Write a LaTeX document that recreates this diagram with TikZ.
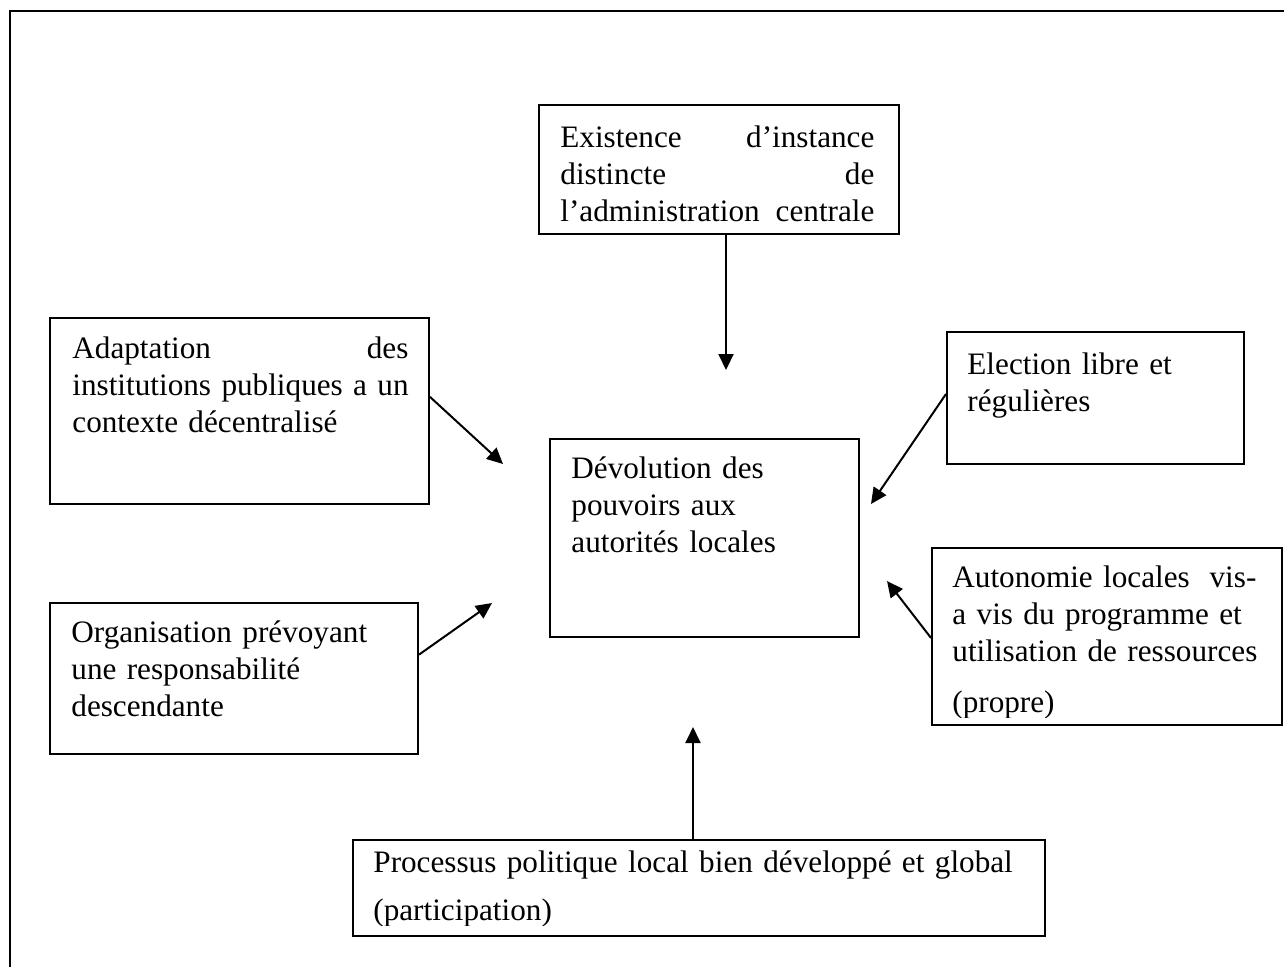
\documentclass[tikz,border=0pt]{standalone}
\usepackage{fontspec}
\setmainfont{Liberation Serif}
\usetikzlibrary{arrows.meta,fit,calc}
\begin{document}
\begin{tikzpicture}[x=0.5pt,y=-0.5pt,
  box/.style={draw, line width=1pt, inner sep=0pt},
  txt/.style={inner sep=0pt, anchor=base west, align=left, font=\fontsize{15.6}{18.5}\selectfont},
  arr/.style={line width=1pt, -{Triangle[length=8pt,width=7.5pt]}}]
\useasboundingbox (0,0) rectangle (1284,966);
% outer frame (top and left sides visible)
\draw[line width=1.4pt] (10,970) -- (10,11) -- (1290,11);

% boxes
\node[box, fit={(539,105) (899,234)}] (ex) {};
\node[box, fit={(50,318) (429,504)}] (ad) {};
\node[box, fit={(550,439) (859,637)}] (dv) {};
\node[box, fit={(947,332) (1244,464)}] (el) {};
\node[box, fit={(932,548) (1282,725)}] (au) {};
\node[box, fit={(50,603) (418,754)}] (or) {};
\node[box, fit={(353,840) (1045,936)}] (pr) {};

% texts
\node[txt, text width=157pt] (ext) at (560,147) {Existence\hfill d’instance\\ distincte\hfill de\\ l’administration\hfill centrale};
\node[txt, text width=168pt] (adt) at (72,358) {Adaptation\hfill des\\ \mbox{institutions publiques a un}\\ contexte décentralisé};
\node[txt, text width=150pt] (dvt) at (571,478) {Dévolution des\\ pouvoirs aux\\ autorités locales};
\node[txt, text width=140pt] (elt) at (967,374) {Election libre et\\ régulières};
\begin{scope}
  \clip (933,549) rectangle (1281,717);
  \node[txt, text width=152pt] (aut) at (952,587) {Autonomie locales\hfill vis-\\ a vis du programme et\\ \mbox{utilisation de ressources}\\[7pt] (propre)};
\end{scope}
\node[txt, text width=170pt] (ort) at (71,642) {Organisation prévoyant\\ une responsabilité\\ descendante};
\begin{scope}
  \clip (354,841) rectangle (1044,925);
  \node[txt, text width=340pt] (prt) at (373,872) {\mbox{Processus politique local bien développé et global}\\[5.5pt] (participation)};
\end{scope}

% free arrow tips
\coordinate (t1) at (726,370);
\coordinate (t2) at (503,464);
\coordinate (t3) at (871,504);
\coordinate (t4) at (492,603);
\coordinate (t5) at (887,581);
\coordinate (t6) at (693,727);

% connectors
\draw[arr] (ex.south -| t1) -- (t1);
\draw[arr] ($(ad.north east)!0.425!(ad.south east)$) -- (t2);
\draw[arr] ($(el.north west)!0.47!(el.south west)$) -- (t3);
\draw[arr] ($(or.north east)!0.344!(or.south east)$) -- (t4);
\draw[arr] ($(au.north west)!0.508!(au.south west)$) -- (t5);
\draw[arr] (pr.north -| t6) -- (t6);
\end{tikzpicture}
\end{document}
